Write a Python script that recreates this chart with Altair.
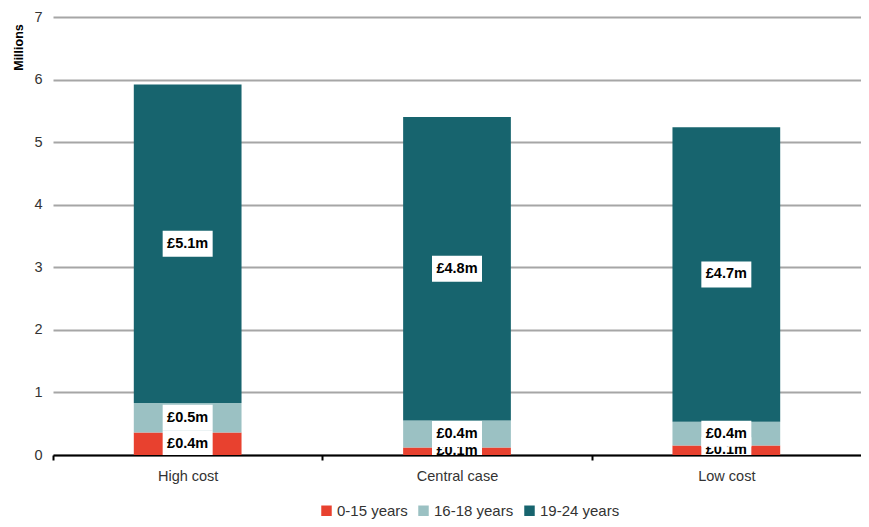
import altair as alt
import pandas as pd

categories = ["High cost", "Central case", "Low cost"]
segments = ["0-15 years", "16-18 years", "19-24 years"]
age_0_15 = [0.36, 0.12, 0.15]
age_16_18 = [0.47, 0.43, 0.38]
age_19_24 = [5.09, 4.85, 4.71]
labels_0_15 = ["£0.4m", "£0.1m", "£0.1m"]
labels_16_18 = ["£0.5m", "£0.4m", "£0.4m"]
labels_19_24 = ["£5.1m", "£4.8m", "£4.7m"]
colors = ["#E8412F", "#9BC1C3", "#17646E"]
y_ticks = [0, 1, 2, 3, 4, 5, 6, 7]

series = [age_0_15, age_16_18, age_19_24]
series_labels = [labels_0_15, labels_16_18, labels_19_24]
rows = []
for i, c in enumerate(categories):
    base = 0.0
    for j, s in enumerate(segments):
        v = series[j][i]
        rows.append(dict(category=c, segment=s, order=j, y0=base, y1=base + v,
                         mid=base + v / 2, label=series_labels[j][i]))
        base += v
df = pd.DataFrame(rows)

FONT = "Liberation Sans"
W = 808
H = 438
step = W / 3.0
xscale = alt.Scale(domain=categories, paddingInner=0.6, paddingOuter=0.3)
yscale = alt.Scale(domain=[0, 7], nice=False)

x_enc = alt.X("category:N", scale=xscale, sort=categories,
              axis=alt.Axis(title=None, labelAngle=0, domainColor="black", domainWidth=2,
                            ticks=True, tickColor="black", tickSize=5, tickWidth=2,
                            tickOffset=-step / 2, labelOffset=step / 2,
                            labelFontSize=14.5, labelColor="#333333",
                            labelPadding=9, labelFont=FONT, grid=False))
y_enc = alt.Y("y0:Q", scale=yscale,
              axis=alt.Axis(title="Millions", values=y_ticks, format="d", domain=False,
                            ticks=False, grid=True, gridColor="#A6A6A6", gridWidth=2,
                            labelFontSize=14.5, labelColor="#333333", labelFont=FONT,
                            labelPadding=11, titleFont=FONT, titleFontSize=12.5,
                            titleFontWeight="bold", titleColor="black",
                            titleX=-35, titleY=30, titleAlign="center",
                            titleBaseline="middle", titleAngle=270))

bars = alt.Chart(df).mark_bar().encode(
    x=x_enc,
    y=y_enc,
    y2="y1:Q",
    color=alt.Color("segment:N", scale=alt.Scale(domain=segments, range=colors),
                    legend=alt.Legend(title=None, orient="none", legendX=266, legendY=486,
                                      direction="horizontal", symbolType="square",
                                      symbolSize=110, symbolStrokeWidth=0,
                                      labelFontSize=15, labelColor="#333333",
                                      labelFont=FONT, labelOffset=3, columnPadding=8)),
)

layers = [bars]
for j in range(3):
    sub = df[df.order == j]
    box = alt.Chart(sub).mark_tick(color="white", opacity=1, size=50, thickness=26,
                                   clip=True).encode(
        x=alt.X("category:N", scale=xscale, sort=categories),
        y=alt.Y("mid:Q", scale=yscale),
    )
    txt = alt.Chart(sub).mark_text(font=FONT, fontWeight="bold", fontSize=14.5,
                                   color="black", clip=True).encode(
        x=alt.X("category:N", scale=xscale, sort=categories),
        y=alt.Y("mid:Q", scale=yscale),
        text="label:N",
    )
    layers += [box, txt]

chart = alt.layer(*layers).properties(
    width=W, height=H,
    autosize=alt.AutoSizeParams(type="none"),
    padding={"left": 45, "top": 9, "right": 0, "bottom": 70},
).configure_view(stroke=None)

chart.save("out.html", embed_options={"renderer": "svg", "actions": False})
